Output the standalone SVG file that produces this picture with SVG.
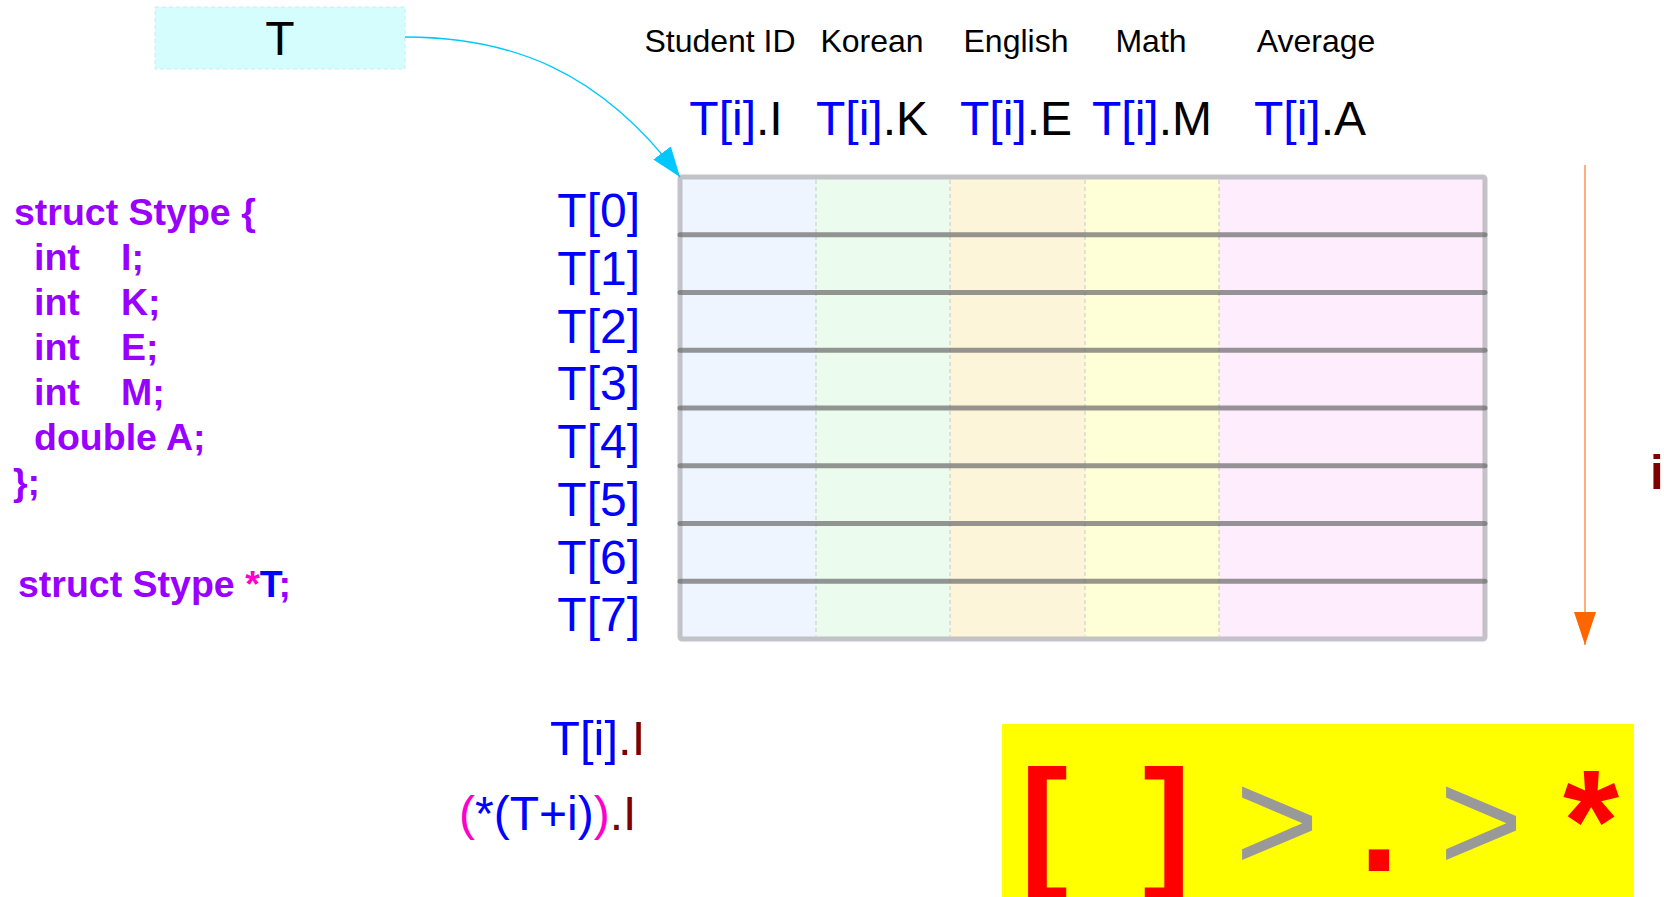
<svg xmlns="http://www.w3.org/2000/svg" width="1664" height="897" viewBox="0 0 1664 897">
<defs>
<style>
text{font-family:"Liberation Sans",Arial,sans-serif;}
.hdr{font-size:32px;fill:#000;text-anchor:middle;}
.fld{font-size:48px;fill:#000;text-anchor:middle;}
.blue{fill:#0000ff;}
.dred{fill:#800000;}
.mag{fill:#ff00cc;}
.row{font-size:48px;fill:#0000ff;text-anchor:end;}
.code{font-size:37.5px;font-weight:bold;fill:#9900ff;}
.rl{stroke:#6e6e6e;stroke-opacity:0.72;stroke-width:5;stroke-linecap:round;}
.cs{stroke:#c8c8c8;stroke-width:1;stroke-dasharray:4,3;}
.big{font-size:144px;text-anchor:middle;}
</style>
<marker id="hCyan" markerUnits="userSpaceOnUse" markerWidth="32" markerHeight="24" refX="30" refY="11" orient="auto">
<path d="M0,0 L30,11 L0,22 z" fill="#00c8ff"/>
</marker>
<marker id="hOrange" markerUnits="userSpaceOnUse" markerWidth="34" markerHeight="24" refX="33" refY="11" orient="auto">
<path d="M0,0 L33,11 L0,22 z" fill="#ff6600"/>
</marker>
</defs>
<rect width="1664" height="897" fill="#ffffff"/>

<g id="nodeT">
<rect x="155" y="7" width="250" height="62" fill="#d6fdfd" stroke="#c6eeee" stroke-width="1" stroke-dasharray="4,3"/>
<text x="280" y="55" style="font-size:48px;text-anchor:middle;fill:#000">T</text>
</g>

<g id="headers">
<text class="hdr" x="720" y="52">Student ID</text>
<text class="hdr" x="872" y="52">Korean</text>
<text class="hdr" x="1016" y="52">English</text>
<text class="hdr" x="1151" y="52">Math</text>
<text class="hdr" x="1316" y="52">Average</text>
</g>

<g id="fields">
<text class="fld" x="736" y="135"><tspan class="blue">T[i]</tspan>.I</text>
<text class="fld" x="872" y="135"><tspan class="blue">T[i]</tspan>.K</text>
<text class="fld" x="1016" y="135"><tspan class="blue">T[i]</tspan>.E</text>
<text class="fld" x="1152" y="135"><tspan class="blue">T[i]</tspan>.M</text>
<text class="fld" x="1310" y="135"><tspan class="blue">T[i]</tspan>.A</text>
</g>

<g id="table">
<rect x="680" y="177" width="136" height="462" fill="#eef5fe"/>
<rect x="816" y="177" width="134" height="462" fill="#ebfcee"/>
<rect x="950" y="177" width="135" height="462" fill="#fdf5da"/>
<rect x="1085" y="177" width="134" height="462" fill="#fefed7"/>
<rect x="1219" y="177" width="266" height="462" fill="#fdedfd"/>
<line class="cs" x1="816" y1="180" x2="816" y2="636"/>
<line class="cs" x1="950" y1="180" x2="950" y2="636"/>
<line class="cs" x1="1085" y1="180" x2="1085" y2="636"/>
<line class="cs" x1="1219" y1="180" x2="1219" y2="636"/>
<rect x="680" y="177" width="805" height="462" rx="2" fill="none" stroke="#b4b4bc" stroke-opacity="0.8" stroke-width="5"/>
<line class="rl" x1="680" y1="234.75" x2="1485" y2="234.75"/>
<line class="rl" x1="680" y1="292.5" x2="1485" y2="292.5"/>
<line class="rl" x1="680" y1="350.25" x2="1485" y2="350.25"/>
<line class="rl" x1="680" y1="408" x2="1485" y2="408"/>
<line class="rl" x1="680" y1="465.75" x2="1485" y2="465.75"/>
<line class="rl" x1="680" y1="523.5" x2="1485" y2="523.5"/>
<line class="rl" x1="680" y1="581.25" x2="1485" y2="581.25"/>
</g>

<g id="rowLabels">
<text class="row" x="640" y="227">T[0]</text>
<text class="row" x="640" y="284.75">T[1]</text>
<text class="row" x="640" y="342.5">T[2]</text>
<text class="row" x="640" y="400.25">T[3]</text>
<text class="row" x="640" y="458">T[4]</text>
<text class="row" x="640" y="515.75">T[5]</text>
<text class="row" x="640" y="573.5">T[6]</text>
<text class="row" x="640" y="631.25">T[7]</text>
</g>

<g id="code">
<text class="code" x="14" y="225">struct Stype {</text>
<text class="code" x="34" y="270">int<tspan x="121">I;</tspan></text>
<text class="code" x="34" y="315">int<tspan x="121">K;</tspan></text>
<text class="code" x="34" y="360">int<tspan x="121">E;</tspan></text>
<text class="code" x="34" y="405">int<tspan x="121">M;</tspan></text>
<text class="code" x="34" y="450">double A;</text>
<text class="code" x="13" y="495">};</text>
<text class="code" x="18" y="597">struct Stype <tspan class="mag">*</tspan><tspan class="blue">T</tspan>;</text>
</g>

<g id="exprs">
<text x="550" y="755" style="font-size:49px"><tspan class="blue">T[i]</tspan><tspan class="dred">.I</tspan></text>
<text x="459" y="830" style="font-size:48px"><tspan class="mag">(</tspan><tspan class="blue">*(T+i)</tspan><tspan class="mag">)</tspan><tspan class="dred">.I</tspan></text>
</g>

<g id="indexLabel">
<text x="1650" y="489" style="font-size:49px;font-weight:bold;fill:#800000">i</text>
</g>

<g id="operators">
<rect x="1002" y="724" width="632" height="173" fill="#ffff00"/>
<text class="big" x="1044" y="871" style="font-weight:bold;fill:#ff0000">[</text>
<text class="big" x="1167" y="871" style="font-weight:bold;fill:#ff0000">]</text>
<text class="big" x="1277" y="871" style="fill:#999999">&gt;</text>
<text class="big" x="1379" y="871" style="font-weight:bold;fill:#ff0000">.</text>
<text class="big" x="1481" y="871" style="fill:#999999">&gt;</text>
<text class="big" x="1591" y="871" style="font-weight:bold;fill:#ff0000">*</text>
</g>

<g id="connectors">
<path d="M405,37 C510,37 600,70 680,177" fill="none" stroke="#00c8ff" stroke-width="1.3" marker-end="url(#hCyan)"/>
<line x1="1585" y1="165" x2="1585" y2="645" stroke="#ff9a5a" stroke-width="1.6" marker-end="url(#hOrange)"/>
</g>
</svg>
